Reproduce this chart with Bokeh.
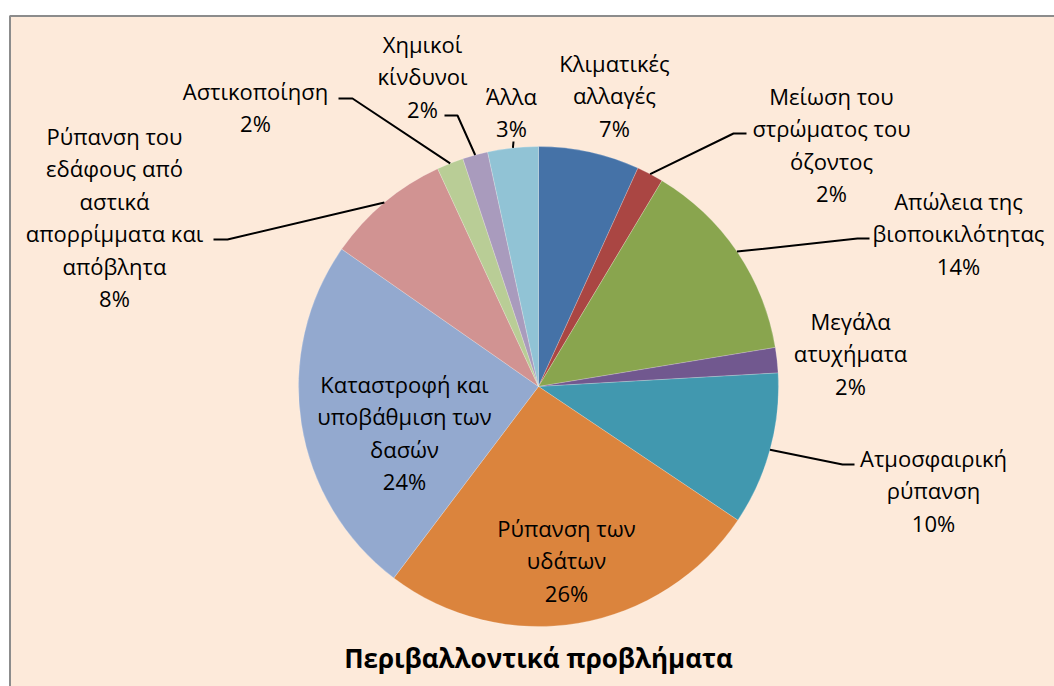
import numpy as np
from bokeh.plotting import figure
from bokeh.models import Range1d
from bokeh.core.properties import value
from bokeh.embed import file_html
from bokeh.resources import INLINE

# ---- data ----
categories = [
    "Κλιματικές\nαλλαγές",
    "Μείωση του\nστρώματος του\nόζοντος",
    "Απώλεια της\nβιοποικιλότητας",
    "Μεγάλα\nατυχήματα",
    "Ατμοσφαιρική\nρύπανση",
    "Ρύπανση των\nυδάτων",
    "Καταστροφή και\nυποβάθμιση των\nδασών",
    "Ρύπανση του\nεδάφους από\nαστικά\nαπορρίμματα και\nαπόβλητα",
    "Αστικοποίηση",
    "Χημικοί\nκίνδυνοι",
    "Άλλα",
]
values = [6.8, 1.8, 13.8, 1.7, 10.3, 25.9, 24.4, 8.4, 1.8, 1.7, 3.4]
colors = ["#4572A7", "#AA4643", "#89A54E", "#71588F", "#4198AF", "#DB843D",
          "#93A9CF", "#D19392", "#B9CD96", "#A99BBD", "#91C3D5"]
title_text = "Περιβαλλοντικά προβλήματα"

# ---- layout (page pixel coordinates) ----
W, H = 1054, 686
def Y(py):
    return H - py

cx, cy, R = 538, 386, 240
# label block: (center x, first line center y)
label_pos = [
    (614, 62), (831, 95), (958, 200), (850, 320), (933, 457), (566, 527),
    (404, 383), (114, 135), (255, 90), (422, 43), (511, 95),
]
line_step = 32.5
# leader polyline points after the pie edge point (None = no leader)
leaders = [
    None,
    [(733, 133), (746, 133)],
    [(857, 238), (869, 238)],
    None,
    [(842, 464), (854, 464)],
    None,
    None,
    [(227, 239), (213, 239)],
    [(352, 98), (338, 98)],
    [(457, 115), (444, 115)],
    [(513, 141)],
]

p = figure(width=W, height=H, x_range=Range1d(0, W), y_range=Range1d(0, H),
           output_backend="svg", toolbar_location=None, min_border=0)
p.title.visible = False
p.axis.visible = False
p.grid.visible = False
p.outline_line_color = None
p.background_fill_color = "white"
p.border_fill_color = "white"

# chart area box
p.quad(left=[9.5], right=[1200], top=[Y(15.5)], bottom=[-200],
       fill_color="#FDEADA", line_color="#8C8C8C", line_width=2)

vals = np.array(values, dtype=float)
frac = vals / vals.sum()
cum_end = np.cumsum(frac)
cum_start = cum_end - frac
start_angles = np.pi / 2 - cum_start * 2 * np.pi
end_angles = np.pi / 2 - cum_end * 2 * np.pi

p.wedge(x=cx, y=Y(cy), radius=R, start_angle=start_angles, end_angle=end_angles,
        direction="clock", fill_color=colors, line_color="#FFFFFF", line_alpha=0.35,
        line_width=0.6)

mid = np.pi / 2 - (cum_start + frac / 2) * 2 * np.pi
for i, pts in enumerate(leaders):
    if pts is None:
        continue
    ex = cx + R * np.cos(mid[i])
    ey = Y(cy) + R * np.sin(mid[i])
    xs = [ex] + [q[0] for q in pts]
    ys = [ey] + [Y(q[1]) for q in pts]
    p.line(xs, ys, line_color="black", line_width=2)

font = value("Open Sans")
for i, name in enumerate(categories):
    lines = name.split("\n") + [f"{round(values[i])}%"]
    lx, ly = label_pos[i]
    xs = [lx] * len(lines)
    ys = [Y(ly + k * line_step) for k in range(len(lines))]
    p.text(x=xs, y=ys, text=lines, text_font=font, text_font_size="22px",
           text_align="center", text_baseline="middle", text_color="black")

p.text(x=[538], y=[Y(657)], text=[title_text], text_font=font, text_font_size="26px",
       text_font_style="bold", text_align="center", text_baseline="middle",
       text_color="black")

open("out.html", "w").write(file_html(p, INLINE))
